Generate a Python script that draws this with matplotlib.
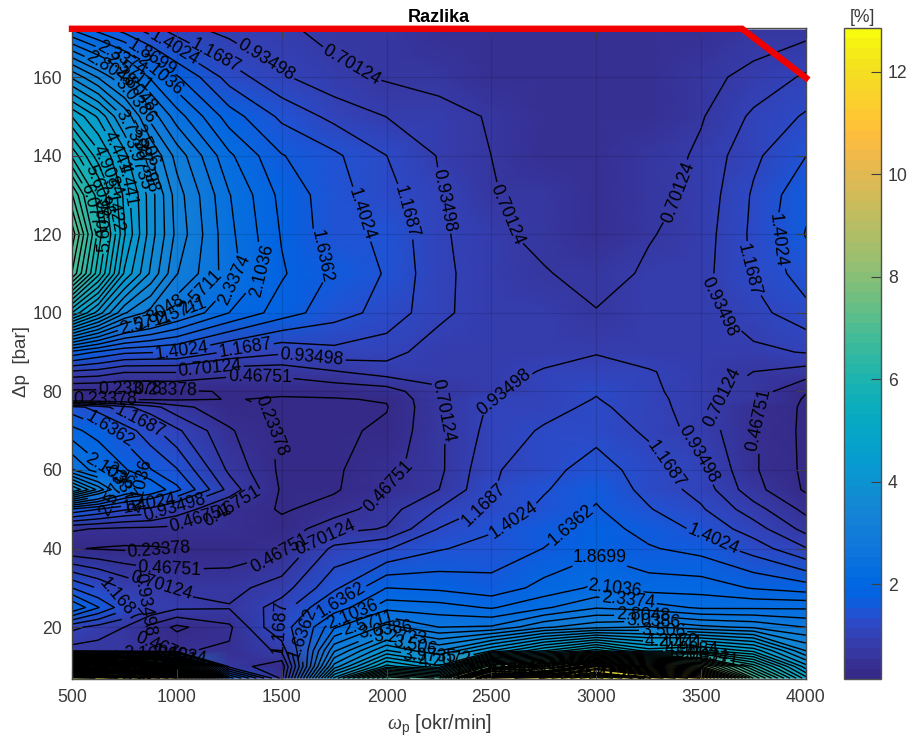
import numpy as np
import matplotlib
matplotlib.use("Agg")
import matplotlib.pyplot as plt
from matplotlib.colors import ListedColormap, Normalize
from matplotlib.cm import ScalarMappable

plt.rcParams['font.family'] = ['Liberation Sans', 'DejaVu Sans']
plt.rcParams['mathtext.fontset'] = 'custom'
plt.rcParams['mathtext.rm'] = 'Liberation Sans'
plt.rcParams['mathtext.it'] = 'Liberation Serif:italic'

PARULA = [(0.2081,0.1663,0.5292),(0.2116,0.1898,0.5777),(0.2123,0.2138,0.6270),(0.2081,0.2386,0.6771),(0.1959,0.2645,0.7279),(0.1707,0.2919,0.7792),(0.1253,0.3242,0.8303),(0.0591,0.3598,0.8683),(0.0117,0.3875,0.8820),(0.0060,0.4086,0.8828),(0.0165,0.4266,0.8786),(0.0329,0.4430,0.8720),(0.0498,0.4586,0.8641),(0.0629,0.4737,0.8554),(0.0723,0.4887,0.8467),(0.0779,0.5040,0.8384),(0.0793,0.5200,0.8312),(0.0749,0.5375,0.8263),(0.0641,0.5570,0.8240),(0.0488,0.5772,0.8228),(0.0343,0.5966,0.8199),(0.0265,0.6137,0.8135),(0.0239,0.6287,0.8038),(0.0231,0.6418,0.7913),(0.0228,0.6535,0.7768),(0.0267,0.6642,0.7607),(0.0384,0.6743,0.7436),(0.0590,0.6838,0.7254),(0.0843,0.6928,0.7062),(0.1133,0.7015,0.6859),(0.1453,0.7098,0.6646),(0.1801,0.7177,0.6424),(0.2178,0.7250,0.6193),(0.2586,0.7317,0.5954),(0.3022,0.7376,0.5712),(0.3482,0.7424,0.5473),(0.3953,0.7459,0.5244),(0.4420,0.7481,0.5033),(0.4871,0.7491,0.4840),(0.5300,0.7491,0.4661),(0.5709,0.7485,0.4494),(0.6099,0.7473,0.4337),(0.6473,0.7456,0.4188),(0.6834,0.7435,0.4044),(0.7184,0.7411,0.3905),(0.7525,0.7384,0.3768),(0.7858,0.7356,0.3633),(0.8185,0.7327,0.3498),(0.8507,0.7299,0.3360),(0.8824,0.7274,0.3217),(0.9139,0.7258,0.3063),(0.9450,0.7261,0.2886),(0.9739,0.7314,0.2666),(0.9938,0.7455,0.2403),(0.9990,0.7653,0.2164),(0.9955,0.7861,0.1967),(0.9880,0.8066,0.1794),(0.9789,0.8271,0.1633),(0.9697,0.8481,0.1475),(0.9626,0.8705,0.1309),(0.9589,0.8949,0.1132),(0.9598,0.9218,0.0948),(0.9661,0.9514,0.0755),(0.9763,0.9831,0.0538)]
parula = ListedColormap(PARULA, name='parula')

# pressure drop rows (bar)
dp = [7,10,14,20,25,30,40,45,50,55,60,70,76,78,80,85,90,100,110,120,130,140,150,160,172]
# speed columns (rev/min) and the difference [%] read along each of them
omega = [500,625,750,875,1000,1250,1500,1750,2000,2250,2500,2750,3000,3250,3500,3750,4000]
z_500  = [12.8,8.0,0.6,1.0,2.1,1.4,0.25,0.5,1.6,4.0,2.6,1.95,1.5,0.2,0.18,0.9,1.8,4.9,7.0,7.4,6.8,5.8,4.9,3.7,2.1]
z_625  = [12.6,7.5,0.58,0.85,1.65,1.15,0.22,0.45,1.4,3.2,2.2,1.75,1.3,0.2,0.18,0.85,1.6,4.1,5.7,6.0,5.7,5.0,4.4,3.25,1.8]
z_750  = [12.3,7.0,0.55,0.7,1.25,0.9,0.2,0.42,1.2,2.4,1.9,1.53,1.0,0.2,0.18,0.72,1.45,3.3,4.4,4.7,4.6,4.3,3.7,2.8,1.55]
z_875  = [11.7,6.5,0.5,0.4,0.9,0.75,0.21,0.41,1.1,2.1,1.65,1.25,0.8,0.2,0.19,0.72,1.42,2.95,3.7,3.85,3.85,3.5,2.95,2.3,1.3]
z_1000 = [11.0,5.0,0.45,0.18,0.75,0.68,0.23,0.4,0.85,1.7,1.42,0.98,0.55,0.2,0.2,0.72,1.4,2.6,3.05,3.2,3.15,2.95,2.45,1.9,1.05]
z_1250 = [2.0,0.6,0.5,0.42,0.72,0.62,0.32,0.36,0.45,0.85,0.65,0.5,0.3,0.24,0.25,0.55,1.13,2.1,2.45,2.4,2.35,2.15,1.75,1.3,0.85]
z_1500 = [0.4,0.3,0.75,1.2,1.05,0.82,0.42,0.33,0.2,0.2,0.18,0.18,0.2,0.22,0.26,0.55,0.98,1.75,1.9,1.85,1.8,1.65,1.35,0.97,0.75]
z_1750 = [4.5,3.6,3.0,2.3,1.7,1.35,1.0,0.62,0.35,0.2,0.2,0.18,0.22,0.22,0.3,0.68,1.1,1.5,1.6,1.5,1.5,1.45,1.1,0.77,0.62]
z_2000 = [7.0,5.0,4.0,2.9,2.25,1.87,1.15,0.72,0.6,0.47,0.38,0.28,0.22,0.25,0.35,0.82,1.03,1.32,1.38,1.35,1.26,1.17,0.93,0.67,0.55]
z_2250 = [6.5,4.5,3.5,2.57,2.2,1.82,1.38,1.18,0.95,0.7,0.65,0.66,0.68,0.68,0.68,0.75,0.8,1.0,1.0,0.98,0.95,0.92,0.83,0.58,0.52]
z_2500 = [11.0,7.5,4.2,2.6,2.08,1.72,1.5,1.37,1.23,1.15,1.13,1.02,0.97,0.95,0.9,0.8,0.75,0.78,0.8,0.78,0.73,0.7,0.67,0.54,0.52]
z_2750 = [11.5,8.0,4.9,3.0,2.3,1.95,1.64,1.55,1.46,1.38,1.33,1.2,1.08,1.05,1.02,0.96,0.82,0.8,0.73,0.6,0.55,0.52,0.52,0.5,0.52]
z_3000 = [12.8,10.0,5.5,3.2,2.55,2.15,1.8,1.74,1.66,1.58,1.5,1.33,1.22,1.18,1.15,1.03,0.92,0.72,0.57,0.5,0.5,0.5,0.5,0.5,0.5]
z_3250 = [11.5,8.5,4.8,3.3,2.45,2.0,1.66,1.55,1.42,1.33,1.3,1.12,1.04,1.02,1.0,0.95,0.85,0.8,0.75,0.68,0.6,0.55,0.52,0.52,0.52]
z_3500 = [10.5,8.0,5.0,3.1,2.3,2.0,1.55,1.35,1.2,1.08,0.98,0.82,0.8,0.8,0.78,0.85,0.8,0.85,0.85,0.82,0.78,0.75,0.68,0.62,0.5]
z_3750 = [7.0,6.0,4.6,3.0,2.3,1.85,1.3,1.05,0.8,0.55,0.5,0.5,0.5,0.55,0.6,0.7,0.88,1.08,1.2,1.22,1.2,1.12,0.98,0.78,0.55]
z_4000 = [5.0,4.3,3.5,2.8,2.3,1.75,0.95,0.62,0.4,0.2,0.18,0.17,0.18,0.2,0.25,0.6,0.95,1.33,1.52,1.65,1.58,1.4,1.2,0.97,0.62]

envelope_omega = [500, 3695, 4000]
envelope_dp = [172.3, 172.3, 159.8]

x_ticks = [500,1000,1500,2000,2500,3000,3500,4000]
y_ticks = [20,40,60,80,100,120,140,160]
cbar_ticks = [2,4,6,8,10,12]

CLIM = (0.15, 12.85)
LEVEL_STEP = 0.233733
LEVEL_START = 0.000045

W, H = 912, 745
fig = plt.figure(figsize=(W/100, H/100), dpi=100)
L, R, T, B = 72, 806, 28, 679
ax = fig.add_axes([L/W, 1-B/H, (R-L)/W, (B-T)/H])
xlim = (500, 4000); ylim = (6.8, 172.5)

Z = np.array([z_500,z_625,z_750,z_875,z_1000,z_1250,z_1500,z_1750,z_2000,z_2250,z_2500,z_2750,z_3000,z_3250,z_3500,z_3750,z_4000]).T
X, Y = np.meshgrid(omega, dp)
norm = Normalize(*CLIM)
ax.pcolormesh(X, Y, Z, shading='gouraud', cmap=parula, norm=norm, zorder=1)
levels = LEVEL_START + LEVEL_STEP*np.arange(1, 56)
cs = ax.contour(X, Y, Z, levels=levels, colors='k', linewidths=1.0, zorder=2)

def px2d(p):
    return (xlim[0] + (p[0]-L)/(R-L)*(xlim[1]-xlim[0]),
            ylim[0] + (B-p[1])/(B-T)*(ylim[1]-ylim[0]))

label_px = [(173,50),(217,53),(268,57),(358,54),(365,213),(412,210),(446,200),(505,215),(670,190),
 (305,262),(265,270),(235,280),(205,295),(180,305),(160,315),(145,322),
 (773,242),(745,270),(718,307),(312,355),(245,347),(182,352),(210,370),(260,380),(165,390),
 (130,392),(105,392),(445,410),(505,395),(480,502),(513,520),(573,527),(663,467),(700,453),(733,400),(758,420),(713,540),
 (260,430),(393,490),(280,555),(325,537),(112,425),(138,425),(159,550),(170,567),(160,593),(143,606),(120,600),
 (277,627),(298,633),(340,598),(352,612),(368,622),(385,630),(400,640),(415,645),(430,655),(445,660),
 (597,565),(615,587),(628,602),(643,615),(653,623),(663,632),(672,640),(682,645),(692,650),(702,655),(712,658),
 (110,470),(125,480),(140,488),(115,490),(150,505),(175,510),(200,518),(225,513),
 (110,70),(125,78),(140,85),(150,60),(160,75),(135,100),(120,62),
 (130,135),(145,145),(120,150),(135,165),(110,170),(125,185),(100,190),(115,205),(92,210),(150,165),(105,225),
 (120,668),(135,660),(150,655),(165,650),(180,655),(130,675),(480,670),(500,672),(520,670),(540,668),(560,668),(580,670),(600,672),(620,674)]
ax.clabel(cs, inline=True, fontsize=12.7, fmt='%.5g', colors='k', inline_spacing=2,
          manual=[px2d(p) for p in label_px])

ax.set_xlim(*xlim); ax.set_ylim(*ylim)
ax.set_xticks(x_ticks); ax.set_yticks(y_ticks)
ax.grid(True, color='k', alpha=0.13, lw=0.8, zorder=3)
ax.set_axisbelow(False)
ax.tick_params(direction='in', length=7, width=0.8, color='#404040', labelcolor='#3a3a3a', labelsize=12.7,
               top=True, right=True, pad=7)
for s in ax.spines.values():
    s.set_color('#505050'); s.set_linewidth(1.0)
ax.set_title('Razlika', fontsize=13, fontweight='bold', color='k', pad=4)
ax.set_xlabel(r'$\mathit{\omega}_{\mathrm{p}}$ [okr/min]', fontsize=14.3, color='#3a3a3a')
ax.set_ylabel('Δp  [bar]', fontsize=13.5, color='#3a3a3a')
ax.xaxis.set_label_coords(0.501, -0.052)
ax.yaxis.set_label_coords(-0.057, 0.487)

ax.plot(envelope_omega, envelope_dp, color='#f00000', lw=4.6, clip_on=False, zorder=6, solid_joinstyle='miter')

cax = fig.add_axes([844/W, 1-B/H, 37/W, (B-T)/H])
cb = fig.colorbar(ScalarMappable(norm=norm, cmap=parula), cax=cax)
cb.set_ticks(cbar_ticks)
cax.tick_params(direction='in', length=7, width=0.8, color='#404040', labelcolor='#3a3a3a', labelsize=12.7, pad=5)
cb.outline.set_edgecolor('#505050'); cb.outline.set_linewidth(1.0)
cax.set_title('[%]', fontsize=12.7, color='#3a3a3a', pad=4)

fig.savefig('out.png', dpi=100)
